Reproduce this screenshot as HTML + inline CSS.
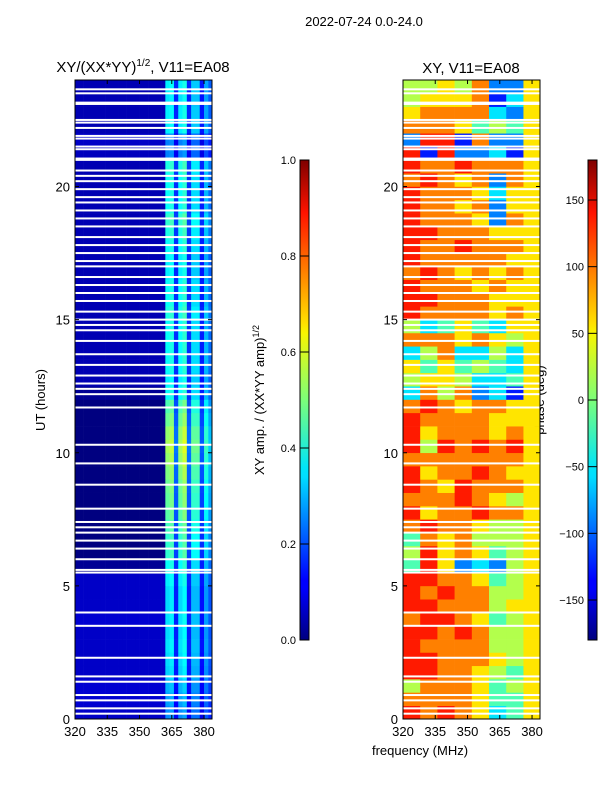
<!DOCTYPE html>
<html><head><meta charset="utf-8"><style>
body{margin:0;background:#fff;}
svg{display:block;font-family:"Liberation Sans",sans-serif;}
</style></head><body>
<svg id="fig" width="600" height="800" viewBox="0 0 600 800">
<rect width="600" height="800" fill="#fff"/>
<text x="364" y="26" font-size="13" text-anchor="middle">2022-07-24 0.0-24.0</text>
<text x="143" y="72" font-size="15" text-anchor="middle">XY/(XX*YY)<tspan font-size="10" dy="-6">1/2</tspan><tspan dy="6">, V11=EA08</tspan></text>
<text x="471" y="73" font-size="15" text-anchor="middle">XY, V11=EA08</text>
<text transform="translate(45,400) rotate(-90)" font-size="13" text-anchor="middle">UT (hours)</text>
<text transform="translate(264,400) rotate(-90)" font-size="13" text-anchor="middle">XY amp. / (XX*YY amp)<tspan font-size="9" dy="-5">1/2</tspan></text>
<text transform="translate(544,400) rotate(-90)" font-size="13" text-anchor="middle">phase (deg)</text>
<text x="420" y="755" font-size="13" text-anchor="middle">frequency (MHz)</text>
<defs>
<linearGradient id="jet" x1="0" y1="1" x2="0" y2="0">
<stop offset="0" stop-color="#00007f"/><stop offset="0.11" stop-color="#0000ff"/><stop offset="0.125" stop-color="#0000ff"/><stop offset="0.34" stop-color="#00ddff"/><stop offset="0.36" stop-color="#00e5f8"/><stop offset="0.5" stop-color="#7cff79"/><stop offset="0.64" stop-color="#f8f500"/><stop offset="0.66" stop-color="#ffe000"/><stop offset="0.89" stop-color="#ff1300"/><stop offset="1" stop-color="#7f0000"/>
</linearGradient>
</defs>
<g id="plots"></g>
</svg>
<script>
// ---- data ----
const freqMin = 320, freqMax = 383.7, hourMin = 0, hourMax = 24;
const xTicks = [320, 335, 350, 365, 380];
const yTicks = [0, 5, 10, 15, 20];
const ampTicks = [0.0, 0.2, 0.4, 0.6, 0.8, 1.0];
const phaseTicks = [-150, -100, -50, 0, 50, 100, 150];
// amplitude: background level (320-362 MHz) per half-hour row, from 0h upward
const ampBg = [0.07,0.08,0.08,0.07,0.07,0.07,0.07,0.08,0.07,0.07,0.07,0.02,0.0,0.0,0.0,0.0,0.0,0.0,0.0,0.0,0.0,0.0,0.0,0.0,0.02,0.05,0.05,0.05,0.05,0.05,0.05,0.05,0.05,0.05,0.05,0.05,0.05,0.05,0.05,0.05,0.05,0.05,0.06,0.07,0.05,0.05,0.05,0.05];
// amplitude of bright strip (362-384 MHz) per row
const ampStrip = [0.26,0.28,0.3,0.33,0.34,0.35,0.34,0.35,0.34,0.34,0.36,0.38,0.42,0.42,0.44,0.46,0.47,0.48,0.5,0.52,0.54,0.52,0.48,0.45,0.38,0.36,0.38,0.38,0.38,0.38,0.4,0.38,0.38,0.36,0.36,0.38,0.4,0.42,0.38,0.38,0.38,0.4,0.25,0.25,0.36,0.36,0.35,0.36];
// relative strip profile by 2-MHz channel from 362 MHz
const stripProfile = [1.0,1.05,0.45,1.0,1.1,0.45,0.9,0.9,0.4,0.8,0.6];
// phase: 8 bands of 8 MHz per half-hour row; digit d -> -162 + 36*d deg
const phaseRows = ["87876346","77776446","57776456","88776546","88777656","87777556","88787556","78876456","88777566","87877556","88776456","48623256","58676456","47675556","78776556","86778776","77787656","87687776","86778766","77777776","85878786","86777676","87777666","78767766","37572316","56653346","64645436","35733536","77767656","53464366","87777676","88777666","87776766","78767676","87777766","87787776","88777666","87776276","87767266","87776366","78767276","87787776","81822316","28817226","77764546","67777326","56667136","55657226"];
// white (flagged) time gaps, hours
const gapHours = [23.65,23.5,23.1,23.15,22.5,22.4,22.2,21.8,21.9,21.5,21.4,21.0,21.05,20.6,20.4,20.2,19.9,19.6,19.4,19.1,18.8,18.5,18.1,17.8,17.5,17.2,17.0,16.6,16.3,16.0,15.7,15.3,15.0,14.8,14.6,14.2,13.7,13.3,12.9,12.6,12.4,12.2,11.7,10.3,9.6,8.8,7.9,7.4,7.2,7.0,6.7,6.4,6.0,5.6,5.5,4.0,3.5,2.3,1.6,1.4,0.9,0.7,0.4,0.2];

// ---- drawing ----
const NS = "http://www.w3.org/2000/svg";
const g = document.getElementById('plots');
function el(t, a, parent){const e=document.createElementNS(NS,t);for(const k in a)e.setAttribute(k,a[k]);(parent||g).appendChild(e);return e;}
function jet(v){v=Math.max(0,Math.min(1,v));const c=x=>Math.round(255*Math.max(0,Math.min(1,1.5-Math.abs(4*v-x))));return `rgb(${c(3)},${c(2)},${c(1)})`;}
const yTop = 80, yBot = 719;
const yScale = h => yBot - (h - hourMin) / (hourMax - hourMin) * (yBot - yTop);
function makeX(x0, x1){return f => x0 + (f - freqMin) / (freqMax - freqMin) * (x1 - x0);}
const panels = [{x0:75,x1:212,name:'amp'},{x0:403,x1:540,name:'phase'}];

panels.forEach(p => {
  const xs = makeX(p.x0, p.x1);
  const grp = el('g', {});
  
  
  const clip = el('clipPath', {id:'clip-'+p.name});
  el('rect', {x:p.x0, y:yTop, width:p.x1-p.x0, height:yBot-yTop}, clip);
  grp.setAttribute('clip-path', 'url(#clip-'+p.name+')');
  const nRows = phaseRows.length;
  for (let r = 0; r < nRows; r++) {
    const h0 = r * 0.5, h1 = h0 + 0.5;
    if (p.name === 'amp') {
      for (let f = 320; f < 384; f += 2) {
        let v;
        if (f < 362) v = ampBg[r];
        else v = ampStrip[r] * stripProfile[Math.min(stripProfile.length-1,(f-362)/2)];
        const c = el('rect', {x:xs(f), y:yScale(h1), width:xs(f+2)-xs(f)+0.3, height:yScale(h0)-yScale(h1)+0.3, fill:jet(v)}, grp);
        
        
      }
    } else {
      const row = phaseRows[r];
      for (let b = 0; b < row.length; b++) {
        const ph = -162 + 36 * parseInt(row[b]);
        const f = 320 + b * 8;
        const c = el('rect', {x:xs(f), y:yScale(h1), width:xs(f+8)-xs(f)+0.3, height:yScale(h0)-yScale(h1)+0.3, fill:jet((ph+180)/360)}, grp);
        
        
      }
    }
  }
  gapHours.forEach(h => {
    const w = el('rect', {x:p.x0, y:yScale(h)-1, width:p.x1-p.x0, height:2, fill:'#fff'}, grp);
    
    
  });
  const frame = el('rect', {x:p.x0, y:yTop, width:p.x1-p.x0, height:yBot-yTop, fill:'none', stroke:'#000', 'stroke-width':1});
  
  
  xTicks.forEach(t => {
    const x = xs(t);
    el('line', {x1:x, x2:x, y1:yBot, y2:yBot-4, stroke:'#000'});
    el('line', {x1:x, x2:x, y1:yTop, y2:yTop+4, stroke:'#000'});
    const tx = el('text', {x:x, y:yBot+17, 'font-size':13, 'text-anchor':'middle'});
    tx.textContent = t;
    
    
  });
  yTicks.forEach(t => {
    const y = yScale(t);
    el('line', {x1:p.x0, x2:p.x0+4, y1:y, y2:y, stroke:'#000'});
    el('line', {x1:p.x1, x2:p.x1-4, y1:y, y2:y, stroke:'#000'});
    const tx = el('text', {x:p.x0-5, y:y+5, 'font-size':13, 'text-anchor':'end'});
    tx.textContent = t;
    
    
  });
});

// colorbars
const cbTop = 160, cbBot = 640;
function colorbar(x, ticks, lo, hi, name, fmt){
  const r = el('rect', {x:x, y:cbTop, width:9, height:cbBot-cbTop, fill:'url(#jet)', stroke:'#000', 'stroke-width':1});
  
  
  ticks.forEach(t => {
    const y = cbBot - (t - lo) / (hi - lo) * (cbBot - cbTop);
    el('line', {x1:x, x2:x+9, y1:y, y2:y, stroke:'#000', 'stroke-width':1});
    const tx = el('text', {x:x-4, y:y+4, 'font-size':11, 'text-anchor':'end'});
    tx.textContent = fmt(t);
    
    
  });
}
colorbar(300, ampTicks, 0, 1, 'amp', t => t.toFixed(1));
colorbar(588, phaseTicks, -180, 180, 'phase', t => t < 0 ? '\u2212' + (-t) : '' + t);
</script>
</body></html>
